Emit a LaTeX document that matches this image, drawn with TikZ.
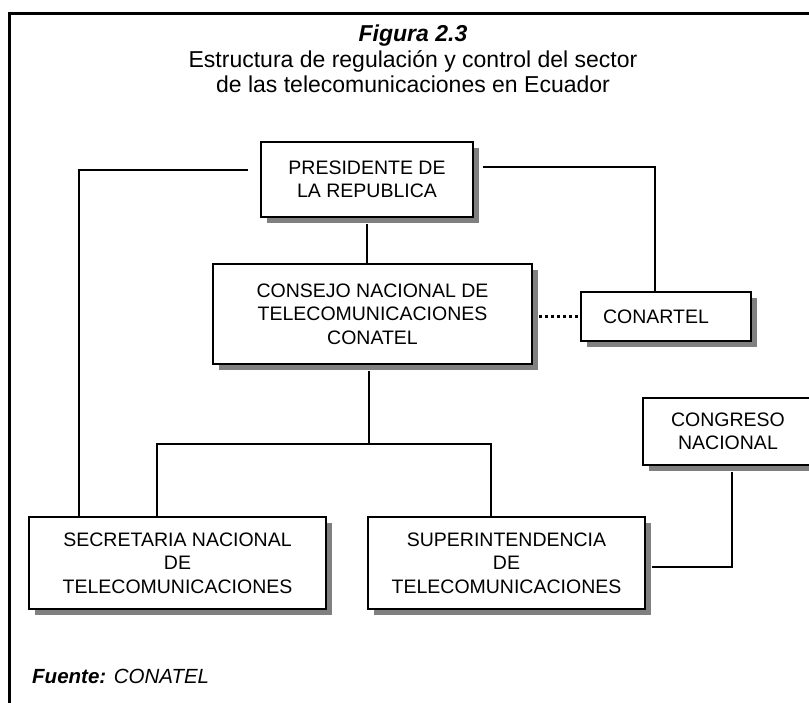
\documentclass[tikz,border=0pt]{standalone}
\usepackage{fontspec}
\setmainfont{Liberation Sans}
\usetikzlibrary{shadows}

\begin{document}
\begin{tikzpicture}[x=1pt, y=-1pt,
    caja/.style={draw, line width=2.4pt, fill=white, align=center, inner sep=0pt,
        font=\fontsize{19.5}{23.5}\selectfont,
        drop shadow={shadow xshift=6pt, shadow yshift=-6pt, fill=black!50, opacity=1}},
    linea/.style={line width=2pt}]
    \clip (0,0) rectangle (809,702);
    \draw[line width=3pt] (9,720) -- (9,13) -- (830,13);

    \node[align=center, inner sep=0pt, anchor=north, font=\fontsize{23}{25.5}\selectfont] (titulo) at (413,25)
        {\textbf{\textit{Figura 2.3}}\\Estructura de regulación y control del sector\\de las telecomunicaciones en Ecuador};

    \node[caja, minimum width=212, minimum height=75] (presidente) at (367,179.5) {PRESIDENTE DE\\LA REPUBLICA};
    \node[caja, minimum width=319, minimum height=100] (consejo) at (372.5,314) {CONSEJO NACIONAL DE\\TELECOMUNICACIONES\\CONATEL};
    \node[caja, minimum width=170, minimum height=49] (conartel) at (666,316.5) {CONARTEL\hspace*{20pt}};
    \node[caja, minimum width=170, minimum height=67] (congreso) at (728,431.5) {CONGRESO\\NACIONAL};
    \node[caja, minimum width=297, minimum height=92] (secretaria) at (177.5,563) {SECRETARIA NACIONAL\\DE\\TELECOMUNICACIONES};
    \node[caja, minimum width=277, minimum height=92] (supertel) at (506.5,563) {SUPERINTENDENCIA\\DE\\TELECOMUNICACIONES};

    \coordinate (rama) at (369,444);

    \draw[linea] ([xshift=-12pt,yshift=9.5pt]presidente.west) -| ([xshift=-98.5pt]secretaria.north);
    \draw[linea] ([xshift=9pt,yshift=12.5pt]presidente.east) -| ([xshift=-11pt]conartel.north);
    \draw[linea] ([yshift=-6pt]presidente.south) -- (presidente.south |- consejo.north);
    \draw[linea] ([yshift=-6pt]consejo.south -| rama) -- (rama);
    \draw[linea] ([xshift=-20.5pt]secretaria.north) |- ([xshift=-15.5pt]supertel.north |- rama) -- ([xshift=-15.5pt]supertel.north);
    \draw[line width=2.5pt, dash pattern=on 3pt off 3pt] ([xshift=6pt]consejo.east |- conartel.west) -- (conartel.west);
    \draw[linea] ([xshift=6pt,yshift=-4pt]supertel.east) -| ([xshift=4pt,yshift=-6pt]congreso.south);

    \node[anchor=base west, inner sep=0pt, font=\fontsize{20.5}{23}\selectfont] (fuente) at (32,683)
        {\textbf{\textit{Fuente:}} \textit{CONATEL}};
\end{tikzpicture}
\end{document}
